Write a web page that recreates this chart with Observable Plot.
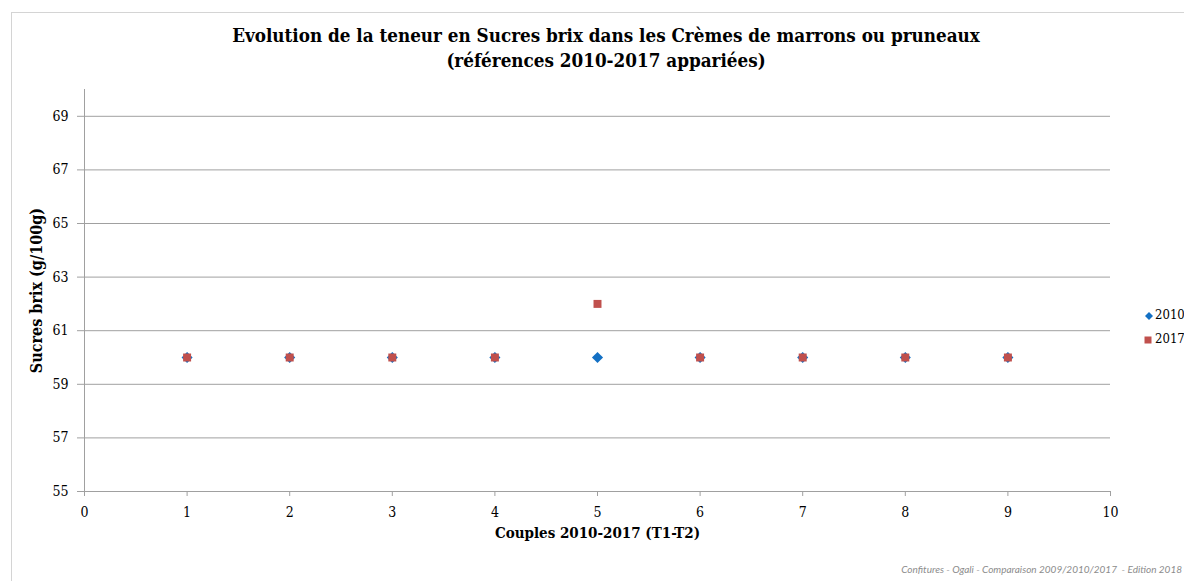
<!DOCTYPE html>
<html>
<head>
<meta charset="utf-8">
<script src="https://cdn.jsdelivr.net/npm/d3@7"></script>
<script src="https://cdn.jsdelivr.net/npm/@observablehq/plot@0.6"></script>
<style>
  html, body { margin: 0; padding: 0; background: #fff; overflow: hidden; }
  #wrap { position: relative; width: 1184px; height: 581px; overflow: hidden; }
  #frame { position: absolute; left: 11px; top: 12px; width: 1400px; height: 800px; border: 1px solid #d4d4d4; box-sizing: border-box; }
  #title { position: absolute; left: 0; width: 1212px; top: 23px; text-align: center; font-family: "DejaVu Serif Condensed", "DejaVu Serif", serif; font-weight: bold; font-size: 18.7px; line-height: 25px; color: #000; }
  #chart { position: absolute; left: 0; top: 0; }
  #caption { position: absolute; right: 2px; top: 563px; white-space: nowrap; font-family: Lato, sans-serif; font-style: italic; font-size: 10px; color: #8c8c8c; }
  .leg { position: absolute; white-space: nowrap; font-family: "DejaVu Serif Condensed", "DejaVu Serif", serif; font-size: 13px; color: #000; }
</style>
</head>
<body>
<div id="wrap">
  <div id="frame"></div>
  <div id="chart"></div>
  <div id="title">Evolution de la teneur en Sucres brix dans les Crèmes de marrons ou pruneaux<br>(références 2010-2017 appariées)</div>
  <div id="caption">Confitures - Ogali - Comparaison 2009/2010/2017&nbsp; - Edition 2018</div>
</div>
<script>
const couples = [1, 2, 3, 4, 5, 6, 7, 8, 9];
const sucres2010 = [60, 60, 60, 60, 60, 60, 60, 60, 60];
const sucres2017 = [60, 60, 60, 60, 62, 60, 60, 60, 60];
const seriesNames = ["2010", "2017"];
const seriesColors = ["#1370c4", "#c0504d"];
const yTicks = [55, 57, 59, 61, 63, 65, 67, 69];
const xTicks = [0, 1, 2, 3, 4, 5, 6, 7, 8, 9, 10];

const d2010 = couples.map((c, i) => ({x: c, y: sucres2010[i]}));
const d2017 = couples.map((c, i) => ({x: c, y: sucres2017[i]}));

const serif = "'DejaVu Serif Condensed', 'DejaVu Serif', serif";

const plot = Plot.plot({
  width: 1184,
  height: 581,
  marginLeft: 84,
  marginRight: 74,
  marginTop: 89,
  marginBottom: 90,
  style: {fontFamily: serif, fontSize: "14px", color: "#000", background: "transparent"},
  x: {domain: [0, 10]},
  y: {domain: [55, 70]},
  marks: [
    Plot.gridY(yTicks, {stroke: "#a0a0a0", strokeOpacity: 1, strokeWidth: 1}),
    Plot.ruleX([0], {y1: 55, y2: 70, stroke: "#a0a0a0"}),
    Plot.ruleY([55], {stroke: "#a0a0a0"}),
    Plot.axisY(yTicks, {tickSize: 7, tickPadding: 9, stroke: "#a0a0a0", fill: "#000", label: null, fontSize: 14}),
    Plot.axisX(xTicks, {tickSize: 5, tickPadding: 11, stroke: "#a0a0a0", fill: "#000", label: null, fontSize: 14}),
    Plot.text(["Sucres brix (g/100g)"], {frameAnchor: "left", textAnchor: "middle", dx: -48, rotate: -90, fontWeight: "bold", fontSize: 16, fill: "#000"}),
    Plot.text(["Couples 2010-2017 (T1-T2)"], {frameAnchor: "bottom", dy: 46, fontWeight: "bold", fontSize: 15, fill: "#000"}),
    Plot.dot(d2010, {x: "x", y: "y", symbol: "diamond2", r: 5, fill: seriesColors[0], stroke: "none"}),
    Plot.dot(d2017, {x: "x", y: "y", symbol: "square", r: 4.5, fill: seriesColors[1], stroke: "none"})
  ]
});
document.getElementById("chart").appendChild(plot);

// legend
const wrap = document.getElementById("wrap");
const legPos = [{sx: 1149, sy: 316, sym: "diamond"}, {sx: 1148, sy: 340, sym: "square"}];
seriesNames.forEach((name, i) => {
  const p = legPos[i];
  const s = document.createElementNS("http://www.w3.org/2000/svg", "svg");
  s.setAttribute("width", 10); s.setAttribute("height", 10);
  s.style.position = "absolute"; s.style.left = (p.sx - 5) + "px"; s.style.top = (p.sy - 5) + "px";
  const path = document.createElementNS("http://www.w3.org/2000/svg", "path");
  path.setAttribute("d", p.sym === "diamond" ? "M5,1L9,5L5,9L1,5Z" : "M1.5,1.5H8.5V8.5H1.5Z");
  path.setAttribute("fill", seriesColors[i]);
  s.appendChild(path);
  wrap.appendChild(s);
  const t = document.createElement("div");
  t.className = "leg";
  t.textContent = name;
  t.style.left = "1155px";
  t.style.top = (p.sy - 9) + "px";
  wrap.appendChild(t);
});
</script>
</body>
</html>
